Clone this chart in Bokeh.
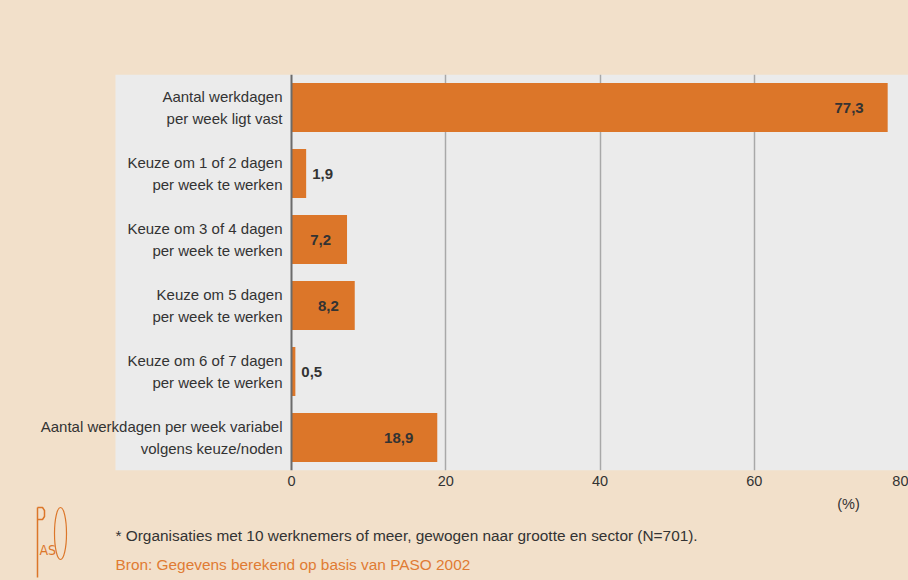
from bokeh.plotting import figure
from bokeh.layouts import column
from bokeh.models import FactorRange, Range1d, FixedTicker, Span, BoxAnnotation
from bokeh.embed import file_html
from bokeh.resources import INLINE
from bokeh.core.properties import value

# ---------------- data ----------------
categories = [
    "Aantal werkdagen\nper week ligt vast",
    "Keuze om 1 of 2 dagen\nper week te werken",
    "Keuze om 3 of 4 dagen\nper week te werken",
    "Keuze om 5 dagen\nper week te werken",
    "Keuze om 6 of 7 dagen\nper week te werken",
    "Aantal werkdagen per week variabel\nvolgens keuze/noden",
]
percentages = [77.3, 1.9, 7.2, 8.2, 0.5, 18.9]
x_ticks = [0, 20, 40, 60, 80]
grid_ticks = [20, 40, 60]
unit_label = "(%)"
footnote = "* Organisaties met 10 werknemers of meer, gewogen naar grootte en sector (N=701)."
source_note = "Bron: Gegevens berekend op basis van PASO 2002"

# ---------------- style ----------------
BEIGE = "#f2e0ca"
GREY = "#ebebeb"
ORANGE = "#dc7629"
TEXT = "#333333"
FONT = value("Liberation Sans")

W = 908
H1 = 492
ZERO_PX = 291                  # where 0 sits (px)
PANEL_PX = 115                 # left edge of grey panel (px)
scale = (W - ZERO_PX) / x_ticks[-1]
x_start = -ZERO_PX / scale

p = figure(width=W, height=H1,
           y_range=FactorRange(factors=list(reversed(categories))),
           x_range=Range1d(x_start, x_ticks[-1]),
           output_backend="svg", toolbar_location=None,
           min_border_left=0, min_border_right=0,
           min_border_top=74, min_border_bottom=H1 - 470)
p.background_fill_color = None
p.border_fill_color = BEIGE
p.outline_line_color = None

# grey panel behind the bars and labels
p.add_layout(BoxAnnotation(left=-(ZERO_PX - PANEL_PX) / scale,
                           fill_color=GREY, fill_alpha=1.0,
                           line_color=None, level="image"))

p.yaxis.visible = False
p.ygrid.visible = False
p.xgrid.ticker = FixedTicker(ticks=grid_ticks)
p.xgrid.grid_line_color = "#a8a8a8"
p.xgrid.grid_line_width = 1.5

p.xaxis.ticker = FixedTicker(ticks=x_ticks)
p.xaxis.axis_line_color = None
p.xaxis.major_tick_line_color = None
p.xaxis.minor_tick_line_color = None
p.xaxis.major_tick_out = 0
p.xaxis.major_tick_in = 0
p.xaxis.major_label_standoff = 5
p.xaxis.major_label_text_font = "Liberation Sans"
p.xaxis.major_label_text_font_size = "14.5px"
p.xaxis.major_label_text_color = TEXT

# bars
p.hbar(y=categories, left=0, right=percentages, height=0.74,
       fill_color=ORANGE, line_color=None)

# zero axis line
p.add_layout(Span(location=0, dimension="height", line_color="#6b6b6b",
                  line_width=2))

# value labels
labels = [f"{v:.1f}".replace(".", ",") for v in percentages]
ins = [i for i, v in enumerate(percentages) if v > 5]
outs = [i for i, v in enumerate(percentages) if v <= 5]
p.text(x=[percentages[i] for i in ins], y=[categories[i] for i in ins],
       text=[labels[i] for i in ins],
       x_offset=[-24 if percentages[i] >= 10 else -16 for i in ins],
       text_align="right", text_baseline="middle", text_font=FONT,
       text_font_style="bold", text_font_size="15px", text_color=TEXT)
p.text(x=[percentages[i] for i in outs], y=[categories[i] for i in outs],
       text=[labels[i] for i in outs], x_offset=6,
       text_align="left", text_baseline="middle", text_font=FONT,
       text_font_style="bold", text_font_size="15px", text_color=TEXT)

# category labels
p.text(x=[0] * len(categories), y=categories, text=categories, x_offset=-9,
       text_align="right", text_baseline="middle", text_font=FONT,
       text_font_size="15px", text_color=TEXT, text_line_height=1.33)

# ---------------- notes strip ----------------
H2 = 580 - H1
q = figure(width=W, height=H2, x_range=Range1d(0, W), y_range=Range1d(H2, 0),
           output_backend="svg", toolbar_location=None,
           min_border_left=0, min_border_right=0,
           min_border_top=0, min_border_bottom=0)
q.background_fill_color = None
q.border_fill_color = BEIGE
q.outline_line_color = None
q.xaxis.visible = False
q.yaxis.visible = False
q.grid.visible = False

q.text(x=[848], y=[503 - H1], text=[unit_label], text_align="center",
       text_baseline="middle", text_font=FONT, text_font_size="14.5px",
       text_color=TEXT)
q.text(x=[115], y=[535 - H1], text=[footnote], text_align="left",
       text_baseline="middle", text_font=FONT, text_font_size="15.4px",
       text_color=TEXT)
q.text(x=[115], y=[564 - H1], text=[source_note], text_align="left",
       text_baseline="middle", text_font=FONT, text_font_size="15.4px",
       text_color="#e07b33")

# PASO logo (decorative)
q.line(x=[37, 37], y=[577 - H1, 507 - H1], line_color=ORANGE, line_width=1.5)
q.line(x=[37, 42, 44, 44, 42, 37],
       y=[507 - H1, 507 - H1, 510 - H1, 516 - H1, 519 - H1, 519 - H1],
       line_color=ORANGE, line_width=1.5)
q.ellipse(x=[60], y=[533 - H1], width=12, height=52, fill_color=None,
          line_color=ORANGE, line_width=1.2)
q.text(x=[39], y=[549 - H1], text=["AS"], text_align="left",
       text_baseline="middle", text_font=value("DejaVu Sans Condensed"),
       text_font_size="14px", text_color=ORANGE)

layout = column(p, q, spacing=0, styles={"background-color": BEIGE})
open("out.html", "w").write(file_html(layout, INLINE))
